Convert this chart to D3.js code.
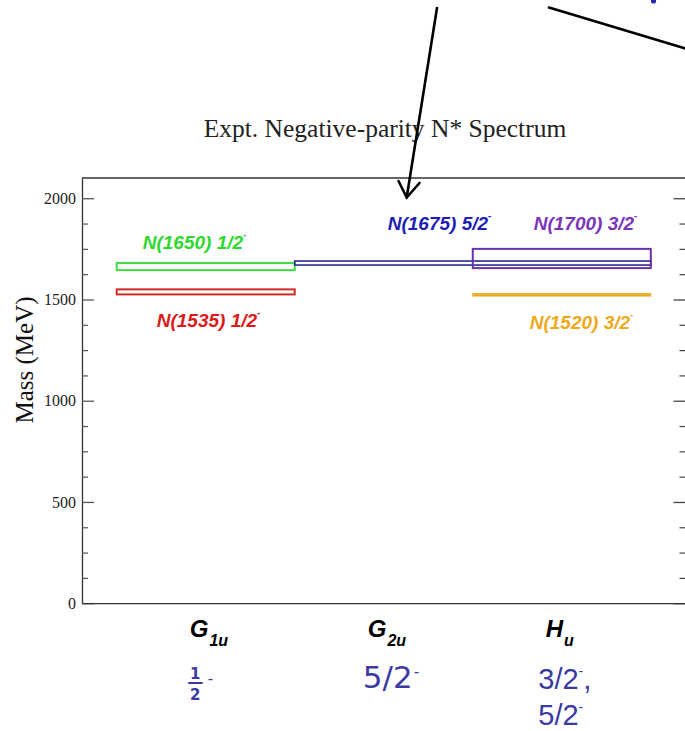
<!DOCTYPE html>
<html>
<head>
<meta charset="utf-8">
<script src="https://cdn.jsdelivr.net/npm/d3@7"></script>
<style>
  body { margin: 0; background: #fff; }
  svg { display: block; }
</style>
</head>
<body>
<div id="chart"></div>
<script>

//Categories (irreps) and what goes under them
var categories = ["G1u", "G2u", "Hu"];
var catMain = ["G", "G", "H"];
var catSub = ["1u", "2u", "u"];

//States: name, mass band (MeV), first/last irrep they span
var stateNames = ["N(1650) 1/2", "N(1535) 1/2", "N(1675) 5/2", "N(1700) 3/2", "N(1520) 3/2"];
var massLow = [1645, 1525, 1670, 1655, 1517];
var massHigh = [1680, 1550, 1690, 1750, 1529];
var firstCat = ["G1u", "G1u", "G2u", "Hu", "Hu"];
var lastCat = ["G1u", "G1u", "Hu", "Hu", "Hu"];

//Axis ticks
var yMajor = [0, 500, 1000, 1500, 2000];
var yMinor = [125, 250, 375, 625, 750, 875, 1125, 1250, 1375, 1625, 1750, 1875];

//Width and Height
var w = 685;
var h = 731;
var margin = {top: 178, right: 0, bottom: 128, left: 82};

//Colors
var boxColors = ["#3fdc3f", "#cf2a2a", "#2b2b8f", "#6a32aa", "#e8ad2a"];
var textColors = ["#2cd82c", "#dc1a1a", "#1f1fb4", "#7a36b8", "#f0a81a"];
var spinColor = "#3a3aa2";

//Label placement relative to each box (dx from band start, dy from top / bottom edge)
var labelPlace = [
    {dx: 26, dy: -14, edge: "top"},
    {dx: 40, dy: 33, edge: "bottom"},
    {dx: 93, dy: -31, edge: "top"},
    {dx: 61, dy: -19, edge: "top"},
    {dx: 57, dy: 33, edge: "bottom"}
];

var x = d3.scaleBand()
            .domain(categories)
            .range([margin.left, w + 0.5])
            .paddingOuter(0.195)
            .paddingInner(0);

var y = d3.scaleLinear()
            .domain([0, 2100])
            .range([h - margin.bottom + 0.2, margin.top]);

var chart = d3.select("#chart")
                .append("svg")
                .attr("width", w)
                .attr("height", h);

//Title
chart.append("text")
    .attr("x", 385)
    .attr("y", 137)
    .attr("text-anchor", "middle")
    .style("font-family", "'Liberation Serif', 'Times New Roman', serif")
    .style("font-size", "25.5px")
    .style("fill", "#222")
    .text("Expt. Negative-parity N* Spectrum");

//Frame top
chart.append("line")
    .attr("x1", margin.left).attr("x2", w + 1)
    .attr("y1", y(2100)).attr("y2", y(2100))
    .attr("stroke", "#333").attr("stroke-width", 1.3);

//Left axis, ticks pointing inwards
var yAxis = d3.axisLeft(y)
                .tickValues(yMajor)
                .tickSizeInner(-12)
                .tickSizeOuter(0)
                .tickPadding(6)
                .tickFormat(d3.format("d"));

var gy = chart.append("g")
    .attr("transform", "translate(" + margin.left + ",0)")
    .call(yAxis);
gy.select(".domain").attr("stroke", "#333").attr("stroke-width", 1.3);
gy.selectAll(".tick line").attr("stroke", "#555").attr("stroke-width", 1.3);
gy.selectAll("text")
    .style("font-family", "'Liberation Serif', 'Times New Roman', serif")
    .style("font-size", "16px")
    .style("fill", "#222");

chart.append("g")
    .attr("transform", "translate(" + margin.left + ",0)")
    .call(d3.axisLeft(y).tickValues(yMinor).tickSizeInner(-6).tickSizeOuter(0).tickFormat(""))
    .call(g => g.select(".domain").remove())
    .selectAll(".tick line").attr("stroke", "#555").attr("stroke-width", 1.2);

//Right axis, ticks pointing inwards
var gr = chart.append("g")
    .attr("transform", "translate(" + (w + 0.5) + ",0)")
    .call(d3.axisRight(y).tickValues(yMajor).tickSizeInner(-12).tickSizeOuter(0).tickFormat(""));
gr.selectAll(".tick line").attr("stroke", "#444").attr("stroke-width", 1.3);
chart.append("g")
    .attr("transform", "translate(" + (w + 0.5) + ",0)")
    .call(d3.axisRight(y).tickValues(yMinor).tickSizeInner(-6).tickSizeOuter(0).tickFormat(""))
    .call(g => g.select(".domain").remove())
    .selectAll(".tick line").attr("stroke", "#444").attr("stroke-width", 1.2);

//Bottom axis (no ticks, labels drawn by hand for the subscripts)
var gx = chart.append("g")
    .attr("transform", "translate(0," + y(0) + ")")
    .call(d3.axisBottom(x).tickSize(0).tickFormat(""));
gx.select(".domain").attr("stroke", "#333").attr("stroke-width", 1.3);

//Y label
chart.append("text")
    .attr("transform", "translate(33," + 360 + ") rotate(-90)")
    .attr("text-anchor", "middle")
    .style("font-family", "'Liberation Serif', 'Times New Roman', serif")
    .style("font-size", "25px")
    .style("fill", "#111")
    .text("Mass (MeV)");

//Boxes
var states = stateNames.map(function(n, i) {
    return {name: n, lo: massLow[i], hi: massHigh[i], first: firstCat[i], last: lastCat[i], i: i};
});

chart.selectAll(".box")
    .data(states)
    .join("rect")
    .attr("class", "box")
    .attr("x", d => x(d.first))
    .attr("y", d => y(d.hi))
    .attr("width", d => x(d.last) + x.bandwidth() - x(d.first))
    .attr("height", d => y(d.lo) - y(d.hi))
    .attr("fill", d => d.i == 4 ? boxColors[4] : "none")
    .attr("stroke", d => boxColors[d.i])
    .attr("stroke-width", d => d.i == 2 ? 1.6 : (d.i == 4 ? 1 : 2));

//State labels
var labels = chart.selectAll(".lab")
    .data(states)
    .join("text")
    .attr("class", "lab")
    .attr("x", d => x(d.first) + labelPlace[d.i].dx)
    .attr("y", d => (labelPlace[d.i].edge == "top" ? y(d.hi) : y(d.lo)) + labelPlace[d.i].dy)
    .style("font-family", "'Liberation Sans', Arial, sans-serif")
    .style("font-weight", "bold")
    .style("font-style", "italic")
    .style("font-size", "19px")
    .style("fill", d => textColors[d.i]);
labels.append("tspan").text(d => d.name);
labels.append("tspan")
    .attr("dy", -11)
    .style("font-size", "10px")
    .text("-");

//Irrep labels
categories.forEach(function(c, i) {
    var t = chart.append("text")
        .attr("x", x(c) + x.bandwidth() / 2 - 16)
        .attr("y", 637)
        .style("font-family", "'Liberation Sans', Arial, sans-serif")
        .style("font-weight", "bold")
        .style("font-style", "italic")
        .style("font-size", "24px")
        .style("fill", "#000");
    t.append("tspan").text(catMain[i]);
    t.append("tspan")
        .attr("dy", 9)
        .attr("dx", 1)
        .style("font-size", "16px")
        .text(catSub[i]);
});

//Spin content under each irrep
var c0 = x("G1u") + x.bandwidth() / 2;
var c1 = x("G2u") + x.bandwidth() / 2;
var c2 = x("Hu") + x.bandwidth() / 2;

var frac = chart.append("g")
    .style("font-family", "'DejaVu Sans', sans-serif")
    .style("font-weight", "bold")
    .style("font-size", "15px")
    .style("fill", spinColor);
frac.append("text").attr("x", c0 - 10.5).attr("y", 679).attr("text-anchor", "middle").text("1");
frac.append("text").attr("x", c0 - 10.5).attr("y", 700).attr("text-anchor", "middle").text("2");
frac.append("line")
    .attr("x1", c0 - 17.5).attr("x2", c0 - 3)
    .attr("y1", 683).attr("y2", 683)
    .attr("stroke", spinColor).attr("stroke-width", 2);
frac.append("text").attr("x", c0 + 2).attr("y", 684).style("font-weight", "normal").text("-");

var s1 = chart.append("text")
    .attr("x", c1 - 21)
    .attr("y", 688)
    .style("font-family", "'DejaVu Sans', sans-serif")
    .style("font-size", "31px")
    .style("fill", spinColor);
s1.append("tspan").text("5/2");
s1.append("tspan").attr("dy", -11).attr("dx", 1).style("font-size", "15px").text("-");

["3/2", "5/2"].forEach(function(s, k) {
    var t = chart.append("text")
        .attr("x", c2 - 23.5)
        .attr("y", 689 + k * 36)
        .style("font-family", "'Liberation Sans', Arial, sans-serif")
        .style("font-size", "29px")
        .style("fill", spinColor);
    t.append("tspan").text(s);
    t.append("tspan").attr("dy", -13).style("font-size", "14px").text("-");
    if (k == 0) t.append("tspan").attr("dy", 13).text(",");
});

//Arrows from the slide
var ink = chart.append("g")
    .attr("stroke", "#000")
    .attr("stroke-width", 2.6)
    .attr("fill", "none")
    .attr("stroke-linecap", "round");
ink.append("line").attr("x1", 437).attr("y1", 8).attr("x2", 406.7).attr("y2", 197.5);
ink.append("polyline").attr("points", "398.5,181 406.7,197.5 419.5,183");
ink.append("line").attr("x1", 549).attr("y1", 7.5).attr("x2", 700).attr("y2", 53);

chart.append("circle")
    .attr("cx", 653.5).attr("cy", 1)
    .attr("r", 2.6)
    .attr("fill", "#2a2ab0");

</script>
</body>
</html>
